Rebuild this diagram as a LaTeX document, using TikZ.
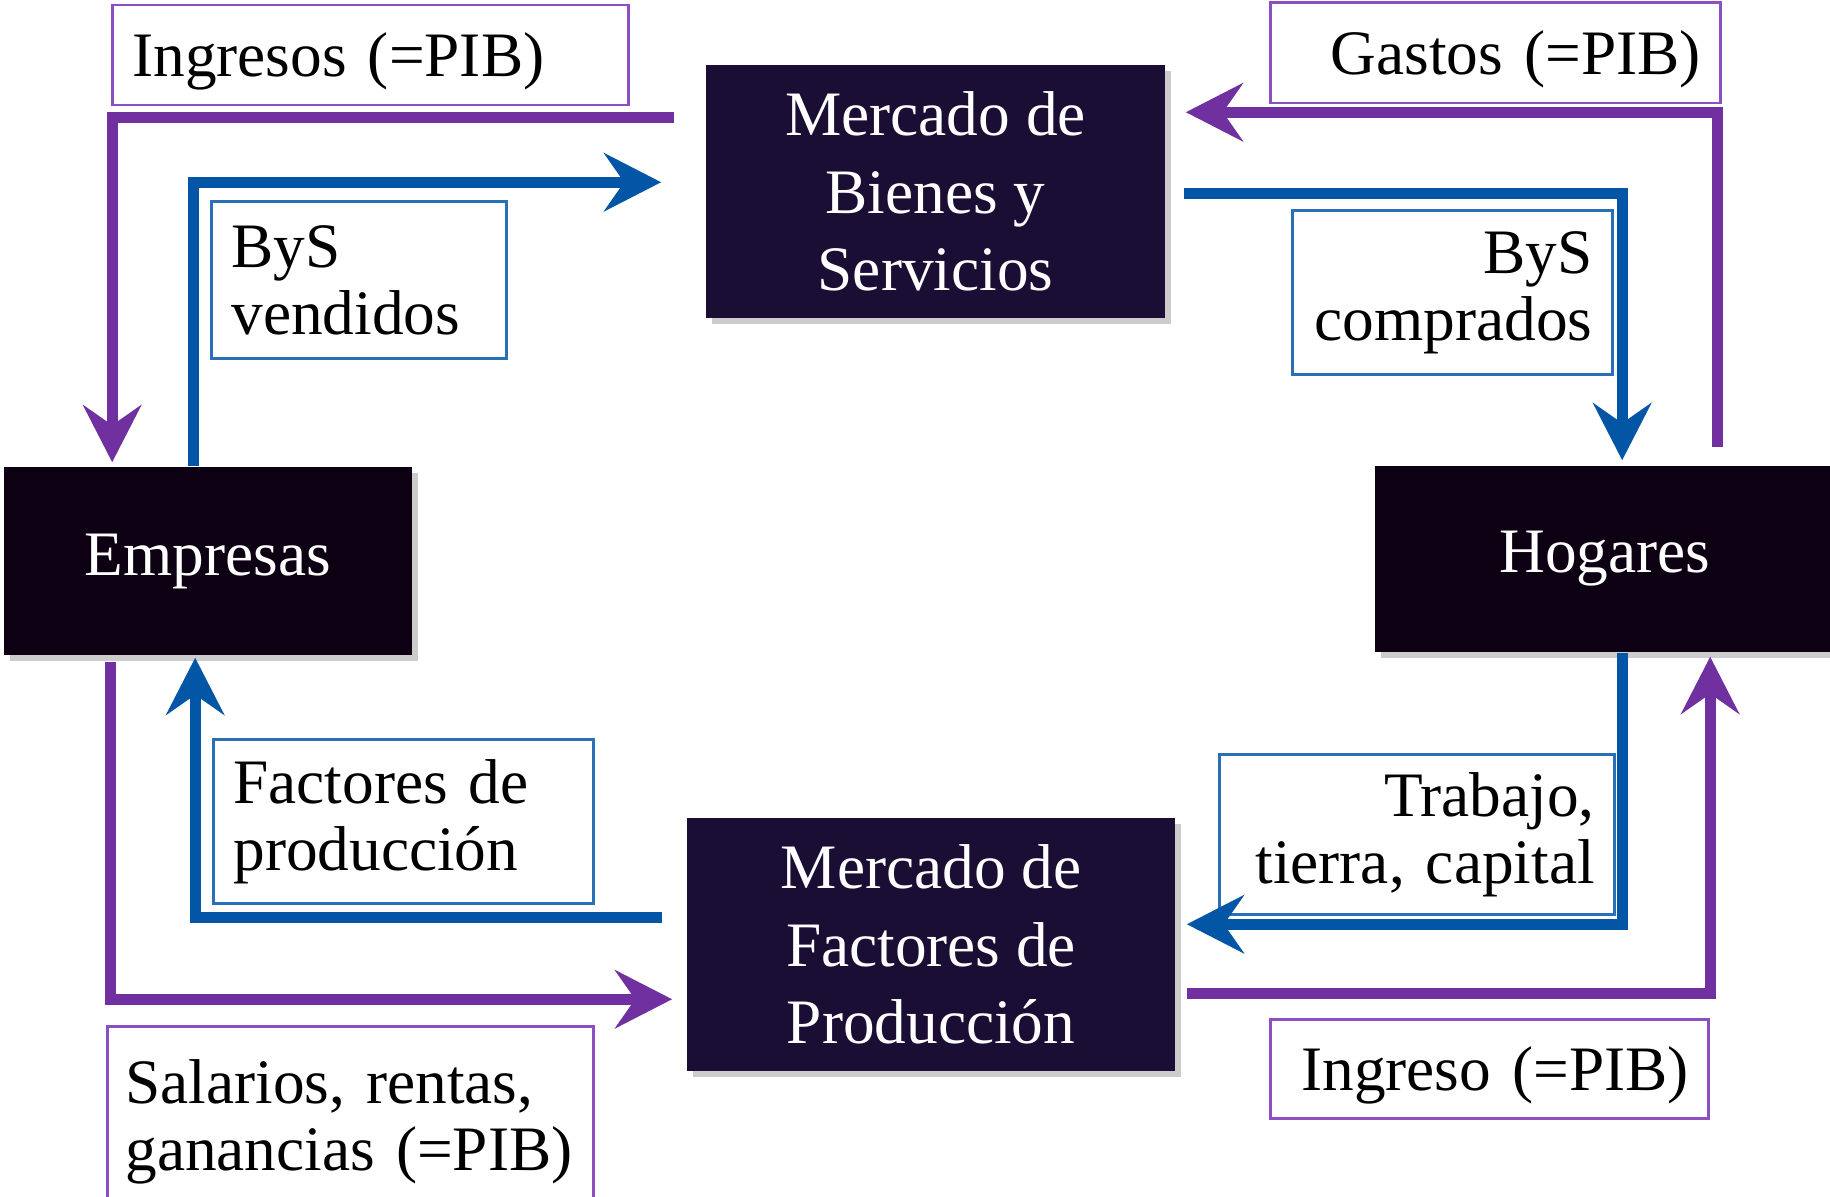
\documentclass[tikz,border=0pt]{standalone}
\usepackage{fontspec}
\setmainfont{Liberation Serif}
\usetikzlibrary{arrows.meta,shadows}
\definecolor{flowpurple}{HTML}{7030A0}
\definecolor{flowblue}{HTML}{0256A5}
\definecolor{mktnavy}{HTML}{1B0E35}
\definecolor{agentblack}{HTML}{0D0013}
\definecolor{tagpurple}{HTML}{8C4FC2}
\definecolor{tagblue}{HTML}{2A70B8}
\tikzset{
  agent/.style={fill=agentblack, text=white, inner sep=0pt, font=\fontsize{18}{22}\selectfont,
    drop shadow={shadow xshift=0.06cm, shadow yshift=-0.06cm, opacity=0.4}},
  market/.style={agent, fill=mktnavy, align=center},
  flowP/.style={draw=flowpurple, line width=0.11cm, -{Stealth[length=0.57cm,width=0.58cm,inset=0.2cm]}},
  flowB/.style={flowP, draw=flowblue},
  tagP/.style={draw=tagpurple, line width=0.8pt, fill=white, inner xsep=0.2cm, inner ysep=0pt,
    font=\fontsize{18}{19}\selectfont, anchor=north west},
  tagB/.style={tagP, draw=tagblue},
  oneline/.style={text depth=0pt},
}

\begin{document}
\begin{tikzpicture}[x=0.01cm,y=-0.01cm]
\clip (0,0) rectangle (1830,1196);
\node[market, minimum width=4.59cm, minimum height=2.53cm] (mb) at (935.5,191.5) {Mercado de\\Bienes y\\Servicios};
\node[agent, minimum width=4.08cm, minimum height=1.88cm] (em) at (208,561) {Empresas};
\node[agent, minimum width=4.6cm, minimum height=1.86cm] (ho) at (1605,559) {Hogares};
\node[market, minimum width=4.88cm, minimum height=2.53cm] (mf) at (931,944.5) {Mercado de\\Factores de\\Producción};

\node[tagP, oneline, minimum width=5.16cm, minimum height=1cm, text width=4.76cm, align=left] (ingresos) at (111,3.5) {Ingresos (=PIB)};
\node[tagP, oneline, minimum width=4.5cm, minimum height=1.005cm, text width=4.1cm, align=right] (gastos) at (1269,1) {Gastos (=PIB)};
\node[tagB, minimum width=2.95cm, minimum height=1.57cm, text width=2.55cm, align=left] (vendidos) at (210,200) {ByS\\vendidos};
\node[tagB, minimum width=3.2cm, minimum height=1.64cm, text width=2.8cm, align=right] (comprados) at (1291,209) {ByS\\comprados};
\node[tagB, minimum width=3.8cm, minimum height=1.64cm, text width=3.4cm, align=left] (factores) at (212,738) {Factores de\\producción};
\node[tagB, minimum width=3.95cm, minimum height=1.6cm, text width=3.55cm, align=right] (trabajo) at (1218,753) {Trabajo,\\tierra, capital};
\node[tagP, minimum width=4.86cm, minimum height=1.9cm, inner xsep=0.18cm, text width=4.5cm, align=left] (salarios) at (106,1025) {Salarios, rentas,\\ganancias (=PIB)};
\node[tagP, oneline, minimum width=4.38cm, minimum height=0.99cm, text width=3.98cm, align=right] (ingreso) at (1269,1018) {Ingreso (=PIB)};

\draw[flowP] ([shift={(-31,53)}]mb.north west) -| ([shift={(109,-4)}]em.north west);
\draw[flowB] ([xshift=1.9cm]em.north west) |- ([shift={(-44,118)}]mb.north west);
\draw[flowB] ([shift={(18,129)}]mb.north east) -| ([shift={(248,-5)}]ho.north west);
\draw[flowP] ([shift={(343,-18)}]ho.north west) |- ([shift={(20,48)}]mb.north east);
\draw[flowB] ([xshift=2.48cm]ho.south west) |- ([shift={(11,107)}]mf.north east);
\draw[flowP] ([shift={(11,176)}]mf.north east) -| ([shift={(336,4)}]ho.south west);
\draw[flowB] ([shift={(-24,100)}]mf.north west) -| ([shift={(192,2)}]em.south west);
\draw[flowP] ([shift={(107,6)}]em.south west) |- ([shift={(-14,182)}]mf.north west);
\end{tikzpicture}
\end{document}
